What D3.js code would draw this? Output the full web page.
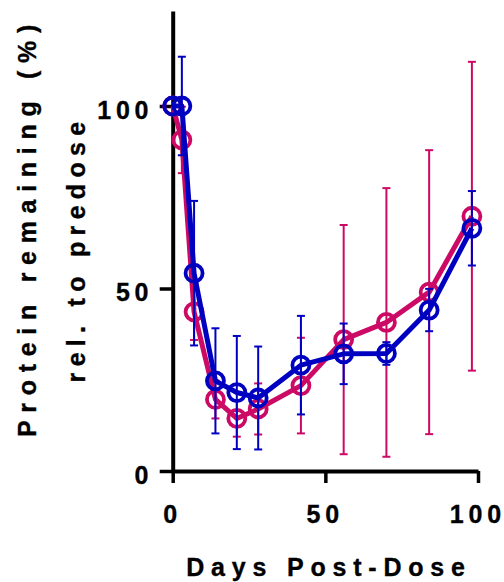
<!DOCTYPE html>
<html>
<head>
<meta charset="utf-8">
<script src="https://cdn.jsdelivr.net/npm/d3@7"></script>
<style>
body{margin:0;background:#fff;}
text{font-family:"Liberation Sans",Arial,sans-serif;font-weight:bold;fill:#000;stroke:#000;stroke-width:0.35px;}
</style>
</head>
<body>
<svg id="chart" width="504" height="582"></svg>
<script>
// donnees
var jours = [0, 3, 7, 14, 21, 28, 42, 56, 70, 84, 98];
var moyRose = [100, 90.7, 43.6, 19.6, 14.4, 17.0, 23.4, 36.0, 40.7, 49.0, 69.8];
var errRose = [0, 9.1, 7.7, 5.2, 5.0, 7.0, 13.1, 31.4, 36.8, 38.9, 42.3];
var moyBleu = [100, 100, 54.2, 24.7, 21.5, 20.0, 29.0, 32.1, 32.2, 44.1, 66.5];
var errBleu = [0, 13.5, 19.8, 14.4, 15.5, 14.1, 13.5, 8.3, 3.1, 5.8, 10.2];
var ticksX = [0, 50, 100];
var ticksXmin = [25, 75];
var ticksY = [0, 50, 100];
var ticksYmin = [10, 20, 30, 40, 60, 70, 80, 90, 110, 120];
var couleurs = ["#CC0A66", "#0000C0"];

var svg = d3.select("#chart");
var x = d3.scaleLinear().domain([0, 100]).range([172.7, 478]);
var y = d3.scaleLinear().domain([0, 126]).range([471, 11.1]);

// axes
var gx = svg.append("g").attr("transform", "translate(0," + y(0) + ")");
gx.call(d3.axisBottom(x).tickValues(ticksXmin).tickSize(7).tickSizeOuter(0).tickFormat(""));
gx.call(d3.axisBottom(x).tickValues(ticksX).tickSize(12).tickSizeOuter(0).tickFormat(""));
var gy = svg.append("g").attr("transform", "translate(" + x(0) + ",0)");
gy.call(d3.axisLeft(y).tickValues(ticksYmin).tickSize(7).tickSizeOuter(0).tickFormat(""));
gy.call(d3.axisLeft(y).tickValues(ticksY).tickSize(13).tickSizeOuter(0).tickFormat(""));
svg.selectAll(".domain").attr("stroke", "#000").attr("stroke-width", 4);
svg.selectAll(".tick line").attr("stroke", "#000").attr("stroke-width", 3.5);

// espacement des lettres sans espace final (tspans)
function espace(sel, px){
	sel.each(function(){
		var t = d3.select(this);
		var txt = t.text();
		t.text("");
		txt.split("").forEach(function(c, i){
			t.append("tspan").attr("dx", i == 0 ? 0 : px).text(c);
		});
	});
}

// etiquettes
svg.selectAll(".lblx").data(ticksX).enter().append("text")
	.attr("class", "lblx")
	.attr("x", function(d){ return x(d) - 2.5; })
	.attr("y", 523)
	.attr("text-anchor", "middle")
	.style("font-size", "25px")
	.text(function(d){ return d; })
	.call(espace, 4.8);
svg.selectAll(".lbly").data(ticksY).enter().append("text")
	.attr("class", "lbly")
	.attr("x", 148.5)
	.attr("y", function(d){ return y(d) + 12.5; })
	.attr("text-anchor", "end")
	.style("font-size", "25px")
	.text(function(d){ return d; })
	.call(espace, 4.8);

svg.append("text")
	.attr("x", 329)
	.attr("y", 576)
	.attr("text-anchor", "middle")
	.style("font-size", "25px")
	.style("letter-spacing", "6.8px")
	.text("Days Post-Dose");
svg.append("text")
	.attr("transform", "translate(36,227) rotate(-90)")
	.attr("text-anchor", "middle")
	.style("font-size", "25px")
	.style("letter-spacing", "7.7px")
	.text("Protein remaining  (%)");
svg.append("text")
	.attr("transform", "translate(85,249) rotate(-90)")
	.attr("text-anchor", "middle")
	.style("font-size", "25px")
	.style("letter-spacing", "6.3px")
	.text("rel. to predose");

// series
function serie(moy, err, coul){
	var pts = jours.map(function(j, i){ return {x: j, m: moy[i], e: err[i]}; });
	var g = svg.append("g");
	var eb = g.selectAll(".eb").data(pts.filter(function(d){ return d.e > 0; })).enter().append("g");
	eb.append("line")
		.attr("x1", function(d){ return x(d.x); }).attr("x2", function(d){ return x(d.x); })
		.attr("y1", function(d){ return y(d.m - d.e); }).attr("y2", function(d){ return y(d.m + d.e); });
	eb.append("line")
		.attr("x1", function(d){ return x(d.x) - 4; }).attr("x2", function(d){ return x(d.x) + 4; })
		.attr("y1", function(d){ return y(d.m + d.e); }).attr("y2", function(d){ return y(d.m + d.e); });
	eb.append("line")
		.attr("x1", function(d){ return x(d.x) - 4; }).attr("x2", function(d){ return x(d.x) + 4; })
		.attr("y1", function(d){ return y(d.m - d.e); }).attr("y2", function(d){ return y(d.m - d.e); });
	eb.selectAll("line").attr("stroke", coul).attr("stroke-width", 2);

	g.append("path")
		.datum(pts)
		.attr("fill", "none")
		.attr("stroke", coul)
		.attr("stroke-width", 5)
		.attr("stroke-linejoin", "round")
		.attr("d", d3.line().x(function(d){ return x(d.x); }).y(function(d){ return y(d.m); }));

	g.selectAll("circle").data(pts).enter().append("circle")
		.attr("cx", function(d){ return x(d.x); })
		.attr("cy", function(d){ return y(d.m); })
		.attr("r", 8.5)
		.attr("fill", "none")
		.attr("stroke", coul)
		.attr("stroke-width", 3.8);
}
serie(moyRose, errRose, couleurs[0]);
serie(moyBleu, errBleu, couleurs[1]);
</script>
</body>
</html>
